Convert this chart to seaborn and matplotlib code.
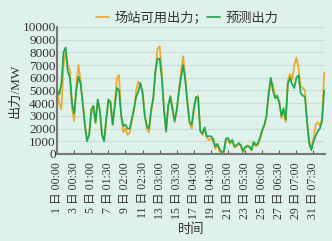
import numpy as np
import pandas as pd
import matplotlib
matplotlib.use("Agg")
import matplotlib.pyplot as plt
import seaborn as sns

# 数据（从图上读取的估计值，单位 MW）
available = [5200, 4000, 3500, 7000, 8000, 7000, 6600, 3500, 2600, 5500,
             7000, 5800, 4000, 2500, 1200, 1500, 3200, 3500, 2400, 4000,
             3300, 1600, 1100, 2600, 4000, 4200, 2300, 4000, 6000, 6200,
             3000, 1700, 2000, 1500, 1700, 2600, 3400, 5000, 5700, 5300,
             5000, 3200, 2000, 1700, 3300, 4200, 6500, 8300, 8500, 6500,
             3700, 1700, 3800, 4600, 3700, 2500, 3400, 5000, 6500, 7700,
             6000, 4200, 2400, 2000, 3400, 4300, 4600, 1900, 1500, 2000,
             1300, 1100, 1200, 1000, 400, 700, 200, 100, 0, 1100,
             1000, 800, 1000, 500, 600, 800, 600, 100, 500, 700,
             500, 300, 900, 600, 700, 1200, 1800, 2200, 3000, 4500,
             5800, 5500, 4600, 4400, 4200, 2800, 3400, 2500, 5800, 6300,
             5800, 7000, 7600, 6800, 5300, 5200, 5000, 2600, 1000, 500,
             1200, 2300, 2500, 2200, 2800, 6400]
forecast = [5000, 4700, 5500, 8000, 8400, 6500, 6000, 4000, 3200, 5000,
            6100, 5500, 4000, 2200, 1000, 1500, 3500, 3800, 2500, 4300,
            3500, 1500, 1000, 2800, 4300, 4000, 2300, 3800, 5200, 5000,
            3000, 2200, 2300, 2000, 2000, 2800, 3600, 4500, 4900, 5600,
            4800, 3000, 2200, 2000, 3500, 4400, 6500, 7500, 7500, 6000,
            3500, 1800, 3800, 4500, 3500, 2600, 3500, 4900, 6000, 7000,
            5800, 4000, 2500, 2300, 3600, 4500, 4400, 1800, 1600, 2100,
            1400, 1400, 1400, 1200, 600, 800, 400, 150, 200, 1200,
            1250, 900, 1100, 600, 700, 850, 700, 200, 550, 600,
            600, 300, 950, 700, 850, 1300, 1900, 2300, 3000, 4800,
            6000, 5000, 4400, 4600, 4000, 3000, 3600, 2700, 5500, 6000,
            5500, 5200, 6000, 6200, 4800, 4600, 4500, 2500, 800, 300,
            1000, 1400, 1800, 2000, 2600, 5000]
tick_labels = ["1 日 00:00", "3 日 00:30", "5 日 01:00", "7 日 01:30",
               "9 日 02:00", "11 日 02:30", "13 日 03:00", "15 日 03:30",
               "17 日 04:00", "19 日 04:30", "21 日 05:00", "23 日 05:30",
               "25 日 06:00", "27 日 06:30", "29 日 07:00", "31 日 07:30"]
step = 8

df = pd.DataFrame({"idx": np.arange(len(available)),
                   "场站可用出力；": available,
                   "预测出力": forecast})

bg = "#dff1eb"
sns.set_theme(style="white", rc={"axes.facecolor": bg, "figure.facecolor": bg})
plt.rcParams["font.family"] = ["Liberation Serif", "Noto Sans CJK SC"]
plt.rcParams["text.color"] = "#333333"

fig = plt.figure(figsize=(3.32, 2.41), dpi=100)
ax = fig.add_axes([0.172, 0.361, 0.807, 0.527])

sns.lineplot(data=df, x="idx", y="场站可用出力；", color="#eea92c", lw=1.25,
             label="场站可用出力；", ax=ax)
sns.lineplot(data=df, x="idx", y="预测出力", color="#1ea84c", lw=1.25,
             label="预测出力", ax=ax)

ax.set_ylim(0, 10000)
ax.set_xlim(0, len(available) - 0.6)
ax.set_yticks(np.arange(0, 10001, 1000))
ax.yaxis.grid(True, color="#c9ded8", lw=0.8)
ax.set_xticks(np.arange(0, step * len(tick_labels), step))
ax.set_xticklabels(tick_labels, rotation=90, fontsize=8.5, color="#333333")
ax.tick_params(axis="y", labelsize=9.5, labelcolor="#333333", length=0, pad=1)
ax.tick_params(axis="x", direction="in", length=3, width=0.8, color="#555555",
               bottom=True, pad=6)

for side in ["top", "right"]:
    ax.spines[side].set_visible(False)
for side in ["left", "bottom"]:
    ax.spines[side].set_color("#777777")
    ax.spines[side].set_linewidth(1.5)

ax.set_xlabel("时间", fontsize=9.5, color="#333333", labelpad=3)
ax.set_ylabel("出力/MW", fontsize=9.5, color="#333333", labelpad=1)

ax.legend(loc="lower left", bbox_to_anchor=(0.145, 1.02), ncol=2, frameon=False,
          fontsize=9.5, handlelength=1.0, handletextpad=0.4, columnspacing=0.0,
          borderaxespad=0, borderpad=0)

fig.savefig("out.png", dpi=100, facecolor=bg)
